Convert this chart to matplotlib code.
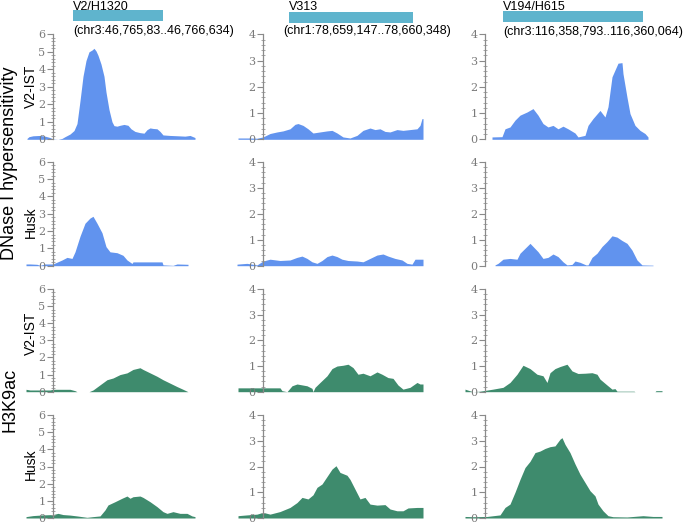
import matplotlib
matplotlib.use('Agg')
import matplotlib.pyplot as plt
from matplotlib.ticker import MultipleLocator

W, H = 685, 523
BLUE = '#6193ee'
GREEN = '#3e8b6d'
BAR = '#5fb4cd'
TICK = '#7a7a7a'

# regions (column headers)
region_names = ['V2/H1320', 'V313', 'V194/H615']
region_coords = ['(chr3:46,765,83..46,766,634)', '(chr1:78,659,147..78,660,348)',
                 '(chr3:116,358,793..116,360,064)']
feature_start = [73, 289, 503]
feature_end = [163, 413, 643]
col_ymax = [6, 4, 4]

# track positions along each window
# --- DNase, V2-IST ---
dv_1_x = [27, 29, 33, 40, 45, 50, 53, 58, 62, 65, 70, 74, 77, 80, 83, 86, 89, 92, 94, 96, 98, 101, 104, 106,
          109, 112, 114, 117, 120, 124, 128, 131, 135, 140, 144, 147, 150, 153, 157, 160, 163, 170, 178, 185,
          190, 195]
dv_1_y = [0.05, 0.15, 0.2, 0.22, 0.18, 0.1, 0.02, 0.0, 0.05, 0.15, 0.3, 0.5, 0.9, 2.2, 3.6, 4.5, 5.0, 5.1,
          5.2, 5.05, 4.8, 4.3, 3.6, 2.7, 1.7, 1.0, 0.78, 0.75, 0.8, 0.85, 0.8, 0.6, 0.45, 0.38, 0.35, 0.55, 0.65,
          0.62, 0.6, 0.45, 0.25, 0.22, 0.2, 0.18, 0.22, 0.1]
dv_2_x = [238, 250, 257, 263, 270, 277, 283, 290, 295, 298, 303, 308, 313, 320, 327, 332, 337, 343, 350, 357,
          363, 370, 375, 380, 385, 390, 397, 403, 410, 417, 420, 422, 423]
dv_2_y = [0.05, 0.05, 0.04, 0.09, 0.22, 0.28, 0.32, 0.4, 0.57, 0.6, 0.53, 0.4, 0.24, 0.28, 0.32, 0.34, 0.24,
          0.09, 0.05, 0.15, 0.34, 0.43, 0.37, 0.4, 0.3, 0.28, 0.37, 0.34, 0.37, 0.4, 0.53, 0.79, 0.79]
dv_3_x = [492, 502, 505, 510, 515, 520, 527, 533, 538, 543, 548, 553, 558, 563, 568, 575, 578, 585, 588, 593,
          600, 605, 608, 612, 615, 618, 622, 623, 627, 630, 635, 640, 645, 648]
dv_3_y = [0.09, 0.1, 0.4, 0.47, 0.73, 0.92, 1.04, 1.17, 0.92, 0.6, 0.47, 0.53, 0.4, 0.5, 0.4, 0.24, 0.09, 0.15,
          0.53, 0.79, 1.1, 0.85, 1.24, 2.38, 2.64, 2.9, 2.92, 2.5, 1.6, 0.98, 0.53, 0.34, 0.22, 0.09]

# --- DNase, Husk ---
dh_1_x = [26, 30, 37, 40, 45, 50, 53, 62, 67, 72, 75, 80, 85, 90, 93, 97, 102, 106, 110, 117, 123, 127, 132,
          133, 147, 162, 163, 173, 177, 188]
dh_1_y = [0.1, 0.1, 0.08, 0.02, 0.1, 0.1, 0.1, 0.33, 0.48, 0.42, 0.8, 1.7, 2.45, 2.75, 2.85, 2.45, 1.9, 1.1,
          0.8, 0.75, 0.6, 0.33, 0.13, 0.22, 0.22, 0.22, 0.05, 0.02, 0.1, 0.08]
dh_2_x = [237, 247, 257, 263, 270, 280, 290, 297, 302, 307, 312, 317, 322, 327, 332, 337, 342, 348, 357, 363,
          370, 377, 383, 388, 395, 402, 407, 412, 415, 423]
dh_2_y = [0.06, 0.09, 0.03, 0.18, 0.25, 0.2, 0.22, 0.32, 0.37, 0.28, 0.15, 0.09, 0.2, 0.35, 0.41, 0.35, 0.25,
          0.2, 0.18, 0.15, 0.28, 0.41, 0.45, 0.37, 0.28, 0.22, 0.09, 0.06, 0.25, 0.25]
dh_3_x = [495, 498, 503, 510, 517, 520, 525, 530, 533, 538, 543, 548, 553, 558, 563, 567, 572, 575, 580, 586,
          588, 592, 597, 602, 607, 612, 617, 622, 627, 632, 637, 642, 653]
dh_3_y = [0.03, 0.09, 0.25, 0.28, 0.25, 0.48, 0.67, 0.86, 0.74, 0.54, 0.28, 0.32, 0.45, 0.35, 0.15, 0.03, 0.05,
          0.18, 0.13, 0.03, 0.03, 0.32, 0.48, 0.74, 0.93, 1.15, 1.1, 0.97, 0.86, 0.6, 0.22, 0.03, 0.02]

# --- H3K9ac, V2-IST ---
hv_1_x = [26, 30, 33, 43, 50, 53, 60, 70, 75, 77, 78, 88, 89, 93, 100, 107, 113, 120, 127, 133, 140, 143, 150,
          157, 163, 170, 177, 183, 188]
hv_1_y = [0.14, 0.1, 0.1, 0.1, 0.1, 0.14, 0.14, 0.14, 0.06, 0.0, 0.0, 0.0, 0.0, 0.1, 0.4, 0.7, 0.8, 1.0, 1.1,
          1.3, 1.4, 1.3, 1.1, 0.9, 0.7, 0.5, 0.3, 0.14, 0.0]
hv_2_x = [238, 247, 280, 282, 287, 292, 297, 307, 312, 313, 315, 320, 327, 332, 337, 343, 348, 353, 358, 363,
          370, 377, 382, 388, 393, 398, 403, 410, 417, 420, 423]
hv_2_y = [0.15, 0.15, 0.15, 0.04, 0.0, 0.23, 0.3, 0.23, 0.13, 0.0, 0.17, 0.36, 0.62, 0.9, 1.0, 1.03, 1.07,
          0.94, 0.68, 0.72, 0.62, 0.77, 0.68, 0.55, 0.52, 0.26, 0.1, 0.17, 0.36, 0.3, 0.3]
hv_3_x = [465, 468, 473, 480, 493, 503, 510, 517, 523, 530, 537, 543, 547, 550, 555, 560, 567, 572, 578, 585,
          592, 597, 600, 607, 612, 615, 617, 634, 635, 655, 656, 662]
hv_3_y = [0.1, 0.06, 0.0, 0.02, 0.1, 0.17, 0.36, 0.68, 1.03, 0.9, 0.68, 0.62, 0.36, 0.74, 0.9, 0.98, 1.07,
          0.81, 0.71, 0.72, 0.74, 0.68, 0.49, 0.26, 0.1, 0.12, 0.02, 0.02, 0.0, 0.0, 0.04, 0.04]

# --- H3K9ac, Husk ---
hh_1_x = [26, 33, 43, 53, 58, 63, 70, 77, 87, 93, 100, 105, 108, 115, 122, 127, 130, 133, 140, 143, 150, 157,
          163, 167, 173, 180, 187, 192, 195]
hh_1_y = [0.08, 0.14, 0.18, 0.2, 0.27, 0.2, 0.17, 0.12, 0.04, 0.08, 0.12, 0.47, 0.76, 0.95, 1.15, 1.28, 1.15,
          1.24, 1.28, 1.2, 0.95, 0.66, 0.37, 0.27, 0.37, 0.27, 0.27, 0.12, 0.08]
hh_2_x = [238, 247, 257, 263, 270, 280, 290, 297, 302, 308, 313, 317, 322, 327, 332, 336, 340, 347, 350, 355,
          360, 365, 370, 377, 385, 390, 397, 403, 408, 417, 423]
hh_2_y = [0.09, 0.12, 0.15, 0.22, 0.15, 0.25, 0.41, 0.6, 0.8, 0.74, 0.9, 1.19, 1.32, 1.61, 1.9, 2.03, 1.77,
          1.66, 1.5, 1.12, 0.74, 0.8, 0.54, 0.5, 0.52, 0.35, 0.28, 0.28, 0.39, 0.41, 0.41]
hh_3_x = [465, 473, 487, 500, 505, 510, 515, 520, 525, 530, 535, 540, 545, 550, 555, 560, 562, 565, 570, 575,
          580, 585, 590, 595, 598, 603, 608, 613, 627, 643, 653, 662]
hh_3_y = [0.06, 0.05, 0.06, 0.12, 0.41, 0.54, 1.0, 1.5, 1.96, 2.2, 2.54, 2.6, 2.7, 2.77, 2.8, 3.06, 3.12, 2.86,
          2.54, 2.1, 1.7, 1.38, 1.06, 0.86, 0.54, 0.28, 0.09, 0.05, 0.04, 0.09, 0.06, 0.06]

tracks = [
    [(dv_1_x, dv_1_y), (dv_2_x, dv_2_y), (dv_3_x, dv_3_y)],
    [(dh_1_x, dh_1_y), (dh_2_x, dh_2_y), (dh_3_x, dh_3_y)],
    [(hv_1_x, hv_1_y), (hv_2_x, hv_2_y), (hv_3_x, hv_3_y)],
    [(hh_1_x, hh_1_y), (hh_2_x, hh_2_y), (hh_3_x, hh_3_y)],
]
row_colors = [BLUE, BLUE, GREEN, GREEN]
row_names = ['V2-IST', 'Husk', 'V2-IST', 'Husk']

# layout in pixels
col_lo = [25, 236, 460]
col_hi = [200, 426, 668]
spine_at = [53, 263, 485]
row_top = [34.3, 161.7, 289, 415]
row_bot = [139.3, 265.7, 391.7, 518]
row_label_y = [86, 222, 333, 464]

plt.rcParams['font.family'] = ['Liberation Sans', 'DejaVu Sans']
fig = plt.figure(figsize=(W / 100, H / 100), dpi=100)


def add_ax(x0, x1, ytop, ybot):
    return fig.add_axes([x0 / W, 1 - ybot / H, (x1 - x0) / W, (ybot - ytop) / H])


for r in range(4):
    for c in range(3):
        ax = add_ax(col_lo[c], col_hi[c], row_top[r], row_bot[r])
        x, y = tracks[r][c]
        ax.fill_between(x, 0, y, color=row_colors[r], lw=0, zorder=1)
        ax.set_xlim(col_lo[c], col_hi[c])
        ax.set_ylim(0, col_ymax[c])
        ax.patch.set_alpha(0)
        for s in ['top', 'right', 'bottom']:
            ax.spines[s].set_visible(False)
        ax.spines['left'].set_position(('data', spine_at[c]))
        ax.spines['left'].set_color('#8a8a8a')
        ax.spines['left'].set_linewidth(0.9)
        ax.spines['left'].set_zorder(3)
        ax.set_xticks([])
        ax.yaxis.set_major_locator(MultipleLocator(1))
        ax.yaxis.set_minor_locator(MultipleLocator(0.2))
        ax.tick_params(axis='y', which='major', length=4, width=0.8, color='#8a8a8a',
                       labelcolor=TICK, labelsize=8, pad=1.5)
        ax.tick_params(axis='y', which='minor', length=2.5, width=0.6, color='#9a9a9a', direction='inout')
        for lab in ax.get_yticklabels():
            lab.set_family('DejaVu Serif')

# column headers
for c in range(3):
    hx = add_ax(col_lo[c], col_hi[c], 0, 40)
    hx.set_xlim(col_lo[c], col_hi[c])
    hx.set_ylim(40, 0)
    hx.axis('off')
    bar_y = [15.5, 17.5, 16.5][c]
    hx.barh(bar_y, feature_end[c] - feature_start[c], left=feature_start[c], height=11, color=BAR)
    hx.text(feature_start[c], 9.5, region_names[c], fontsize=9, va='baseline', ha='left', clip_on=False)
    hx.text([73, 283, 503][c], [34, 34, 35][c], region_coords[c], fontsize=9, va='baseline', ha='left',
            clip_on=False)

# row and group labels
for r in range(4):
    fig.text(31 / W, 1 - row_label_y[r] / H, row_names[r], rotation=90, fontsize=10, ha='center', va='center')
fig.text(10 / W, 1 - 163 / H, 'DNase I hypersensitivity', rotation=90, fontsize=13, ha='center', va='center')
fig.text(10 / W, 1 - 400 / H, 'H3K9ac', rotation=90, fontsize=13, ha='center', va='center')

fig.savefig('out.png', dpi=100)
